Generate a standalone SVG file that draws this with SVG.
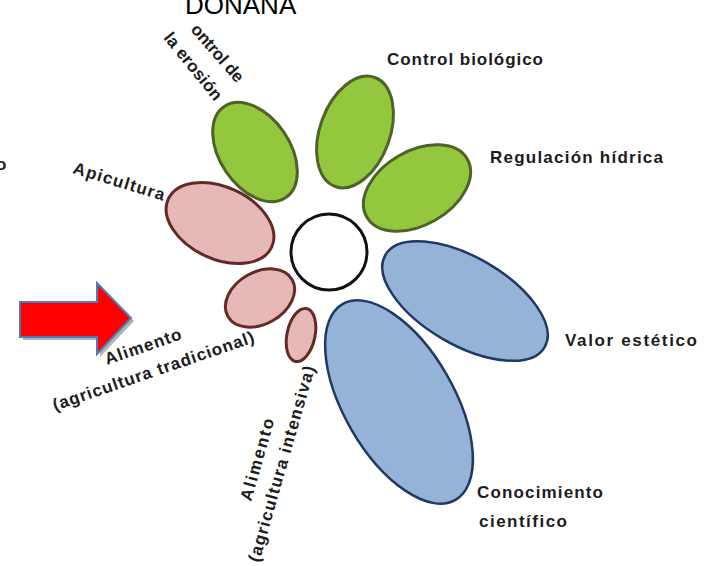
<svg xmlns="http://www.w3.org/2000/svg" width="704" height="566" viewBox="0 0 704 566">
<style>
.lbl{font-family:"Liberation Sans",Arial,sans-serif;font-weight:bold;font-size:17px;fill:#1c1c1c}
.title{font-family:"Liberation Sans",Arial,sans-serif;font-size:26px;fill:#000}
.g{fill:#93c83e;stroke:#4f6228;stroke-width:3}
.p{fill:#e6b9b8;stroke:#632a28;stroke-width:3}
.b{fill:#95b3d7;stroke:#1f3864;stroke-width:2.5}
</style>
<rect width="704" height="566" fill="#fff"/>
<text class="title" x="185" y="14">DOÑANA</text>
<text class="lbl" x="-4" y="170">o</text>

<g id="centro"><circle cx="329" cy="252" r="38" fill="#fff" stroke="#111" stroke-width="3"/></g>

<g id="control-erosion">
<ellipse class="g" cx="255" cy="152" rx="55" ry="35" transform="rotate(56 255 152)"/>
<text class="lbl" transform="translate(190,30) rotate(49)" textLength="71">ontrol de</text>
<text class="lbl" transform="translate(163,38) rotate(51)" textLength="82">la erosión</text>
</g>

<g id="control-biologico">
<ellipse class="g" cx="355" cy="132" rx="58" ry="35" transform="rotate(110 355 132)"/>
<text class="lbl" x="387" y="65" textLength="156">Control biológico</text>
</g>

<g id="regulacion-hidrica">
<ellipse class="g" cx="417" cy="188" rx="58" ry="37" transform="rotate(-30 417 188)"/>
<text class="lbl" x="490" y="163" textLength="173">Regulación hídrica</text>
</g>

<g id="apicultura">
<ellipse class="p" cx="220" cy="223" rx="57" ry="36" transform="rotate(25 220 223)"/>
<text class="lbl" transform="translate(72,173) rotate(17)" textLength="95">Apicultura</text>
</g>

<g id="alimento-tradicional">
<ellipse class="p" cx="260" cy="298" rx="37" ry="26" transform="rotate(-30 260 298)"/>
<text class="lbl" transform="translate(107,365) rotate(-19)" textLength="80">Alimento</text>
<text class="lbl" transform="translate(55,411) rotate(-19)" textLength="212">(agricultura tradicional)</text>
</g>

<g id="alimento-intensiva">
<ellipse class="p" cx="301" cy="335" rx="27" ry="14" transform="rotate(-78 301 335)"/>
<text class="lbl" transform="translate(251,502) rotate(-74)" textLength="85">Alimento</text>
<text class="lbl" transform="translate(259,563) rotate(-74)" textLength="203">(agricultura intensiva)</text>
</g>

<g id="valor-estetico">
<ellipse class="b" cx="465" cy="301" rx="92" ry="44" transform="rotate(30 465 301)"/>
<text class="lbl" x="565" y="346" textLength="132">Valor estético</text>
</g>

<g id="conocimiento-cientifico">
<ellipse class="b" cx="399" cy="402" rx="113" ry="55" transform="rotate(60 399 402)"/>
<text class="lbl" x="477" y="498" textLength="126">Conocimiento</text>
<text class="lbl" x="479" y="527" textLength="88">científico</text>
</g>

<g id="connectors">
<g id="flecha">
<polygon points="20,302 97,302 97,283 131,318 97,354 97,337 20,337" fill="#7f7f7f" opacity="0.6" transform="translate(3,3)"/>
<polygon points="20,302 97,302 97,283 131,318 97,354 97,337 20,337" fill="#ff0000" stroke="#4a7ebb" stroke-width="2"/>
</g>
</g>
</svg>
